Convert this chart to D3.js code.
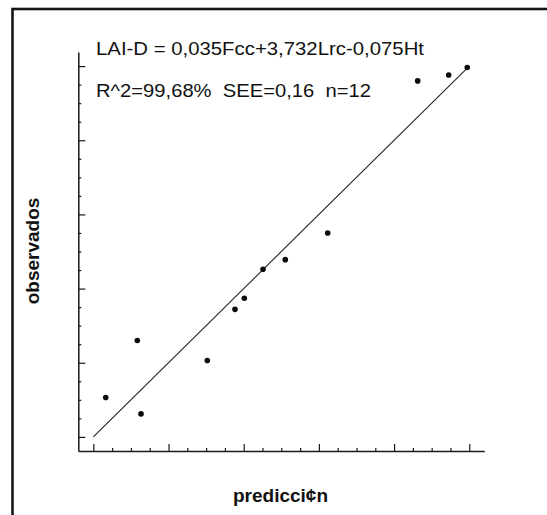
<!DOCTYPE html>
<html>
<head>
<meta charset="utf-8">
<script src="https://cdn.jsdelivr.net/npm/d3@7"></script>
<style>
  html, body { margin: 0; padding: 0; background: #fff; }
  svg { display: block; }
  text { font-family: "Liberation Sans", Arial, Helvetica, sans-serif; fill: #111; }
</style>
</head>
<body>
<svg id="chart" width="547" height="515"></svg>
<script>
// ---- data ----
const predicted = [0.165, 0.585, 0.634, 1.516, 1.884, 2.008, 2.257, 2.553, 3.117, 4.314, 4.726, 4.973];
const observed  = [0.53, 1.30, 0.31, 1.03, 1.72, 1.87, 2.26, 2.39, 2.75, 4.80, 4.88, 4.98];
const fitX = [0, 5];
const fitY = [0, 5];
const majorTicks = [0, 1, 2, 3, 4, 5];
const minorTicks = [0.25, 0.5, 0.75, 1.25, 1.5, 1.75, 2.25, 2.5, 2.75, 3.25, 3.5, 3.75, 4.25, 4.5, 4.75];
const equationText = "LAI-D = 0,035Fcc+3,732Lrc-0,075Ht";
const statsText = "R^2=99,68%  SEE=0,16  n=12";
const xTitle = "predicci\u00a2n";
const yTitle = "observados";

// ---- drawing ----
const svg = d3.select("#chart");
svg.append("rect").attr("x", 0).attr("y", 0).attr("width", 547).attr("height", 515).attr("fill", "#fff");

// outer frame (cut off at right and bottom)
svg.append("rect")
  .attr("x", 12.5).attr("y", 9).attr("width", 600).attr("height", 600)
  .attr("fill", "none").attr("stroke", "#151515").attr("stroke-width", 2.6);

const x = d3.scaleLinear().domain([-0.2, 5.2]).range([78.3, 484.3]);
const y = d3.scaleLinear().domain([-0.19, 5.19]).range([451, 52]);

const axisColor = "#1a1a1a";

// x axis
const gx = svg.append("g").attr("transform", `translate(0,${y(-0.19)})`);
gx.call(d3.axisBottom(x).tickValues(majorTicks).tickSizeInner(-7).tickSizeOuter(0).tickFormat(""));
const gxm = svg.append("g").attr("transform", `translate(0,${y(-0.19)})`);
gxm.call(d3.axisBottom(x).tickValues(minorTicks).tickSizeInner(-3).tickSizeOuter(0).tickFormat(""));
gxm.select(".domain").remove();

// y axis
const gy = svg.append("g").attr("transform", `translate(${x(-0.2)},0)`);
gy.call(d3.axisLeft(y).tickValues(majorTicks).tickSizeInner(-7).tickSizeOuter(0).tickFormat(""));
const gym = svg.append("g").attr("transform", `translate(${x(-0.2)},0)`);
gym.call(d3.axisLeft(y).tickValues(minorTicks).tickSizeInner(-3).tickSizeOuter(0).tickFormat(""));
gym.select(".domain").remove();

svg.selectAll(".domain").attr("stroke", axisColor).attr("stroke-width", 1.5);
svg.selectAll(".tick line").attr("stroke", axisColor).attr("stroke-width", 1.2);

// fit line
svg.append("line")
  .attr("x1", x(fitX[0])).attr("y1", y(fitY[0]))
  .attr("x2", x(fitX[1])).attr("y2", y(fitY[1]))
  .attr("stroke", "#222").attr("stroke-width", 1.1);

// points
svg.append("g").selectAll("circle")
  .data(predicted.map((p, i) => [p, observed[i]]))
  .join("circle")
  .attr("cx", d => x(d[0])).attr("cy", d => y(d[1]))
  .attr("r", 2.8).attr("fill", "#0a0a0a");

// annotations (scanned font is slightly wider than Arial)
svg.append("text").attr("x", 96).attr("y", 55).attr("font-size", 18.5)
  .attr("textLength", 328).attr("lengthAdjust", "spacingAndGlyphs").text(equationText);
svg.append("text").attr("x", 96).attr("y", 97).attr("font-size", 18.5)
  .style("white-space", "pre").attr("xml:space", "preserve")
  .attr("textLength", 275).attr("lengthAdjust", "spacingAndGlyphs").text(statsText);

// axis titles
svg.append("text").attr("x", 280.5).attr("y", 502).attr("text-anchor", "middle")
  .attr("font-size", 19).attr("font-weight", "bold").text(xTitle);
svg.append("text").attr("transform", "translate(38.5,251) rotate(-90)").attr("text-anchor", "middle")
  .attr("font-size", 19).attr("font-weight", "bold").text(yTitle);
</script>
</body>
</html>
